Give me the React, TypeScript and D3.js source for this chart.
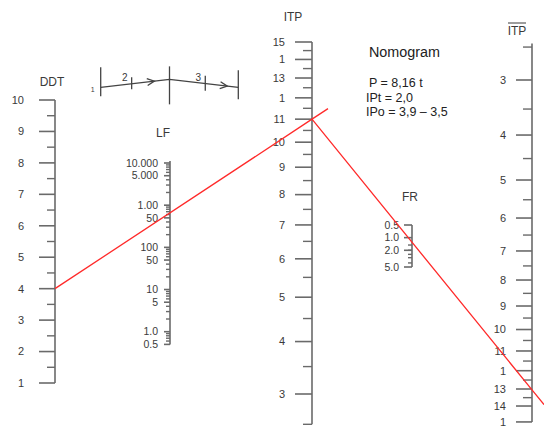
import React from "react";
import * as d3 from "d3";

// ---------- data ----------
const ddtMajor = [1, 2, 3, 4, 5, 6, 7, 8, 9, 10];
const ddtMinor = [1.5, 2.5, 3.5, 4.5, 5.5, 6.5, 7.5, 8.5, 9.5];

const lfMajor = [10000, 5000, 1000, 500, 100, 50, 10, 5, 1, 0.5];
const lfLabels = ["10.000", "5.000", "1.00", "50", "100", "50", "10", "5", "1.0", "0.5"];

const itpMajor = [15, 14, 13, 12, 11, 10, 9, 8, 7, 6, 5, 4, 3];
const itpLabels = ["15", "1", "13", "1", "11", "10", "9", "8", "7", "6", "5", "4", "3"];
const itpMinor = [14.5, 13.5, 12.5, 11.5, 10.5, 9.5, 8.5, 7.5, 6.5, 5.5, 4.5, 3.5, 2.5];

const frMajor = [0.5, 1, 2, 5];
const frLabels = ["0.5", "1.0", "2.0", "5.0"];
const frMinor = [1.5, 2, 2.5, 3, 4];

const itpBarMajor = [3, 4, 5, 6, 7, 8, 9, 10, 11, 12, 13, 14, 15];
const itpBarLabels = ["3", "4", "5", "6", "7", "8", "9", "10", "11", "1", "13", "14", "1"];
const itpBarMinor = [2.5, 3.5, 4.5, 5.5, 6.5, 7.5, 8.5, 9.5, 10.5, 11.5, 12.5, 13.5];

// solution
const ddtValue = 4;
const itpValue = 11;
const itpBarValue = 13.05;

const formulaLines = ["P  =  8,16 t", "IPt  =  2,0", "IPo =  3,9 – 3,5"];

// schematic (relative units)
const schemaPts = [
  { u: 0, v: 0.9 },
  { u: 1, v: 0 },
  { u: 2, v: 0.9 },
];
const schemaBars = [
  { u: 0, top: -1.6, bot: 1.3, label: "1" },
  { u: 0.45, top: -0.6, bot: 0.6, label: "2" },
  { u: 1, top: -1.7, bot: 2.1, label: "" },
  { u: 1.52, top: -0.75, bot: 0.75, label: "3" },
  { u: 2, top: -1.3, bot: 1.6, label: "" },
];

// ---------- layout ----------
const W = 544;
const H = 428;
const FONT = "'Liberation Sans', Arial, sans-serif";
const AX = "#6a6a6a";
const TXT = "#3a3a3a";
const RED = "#ff2a2a";

const xDDT = 55;
const xLF = 170;
const xITP = 312;
const xFR = 412;
const xBar = 532;

const yDDT = d3.scaleLinear().domain([1, 10]).range([383, 100]);
const lfLog = d3.scaleLog().domain([10000, 1]).range([163, 331.7]);
const yLF = (v: number) => lfLog(v);
const itpLog = d3.scaleLog().domain([17, 5]).range([42, 394]);
const yITP = (v: number) => itpLog(v + 2);
const yFR = d3.scaleLog().domain([0.5, 5]).range([225, 267]);
const barLog = d3.scaleLog().domain([4, 14]).range([80, 389]);
const yBar = (v: number) => barLog(v + 1);

const lfMinor: number[] = [];
for (let d = -1; d <= 3; d++) {
  for (let k = 1; k <= 9; k++) {
    const v = k * Math.pow(10, d);
    if (v >= 0.5 && v <= 10000 && !lfMajor.includes(v)) lfMinor.push(v);
  }
}

const sx = d3.scaleLinear().domain([0, 2]).range([100.7, 238.3]);
const sy = d3.scaleLinear().domain([0, 1]).range([79.3, 88.3]);

function Axis({
  x,
  scale,
  major,
  labels,
  minor,
  majLen,
  minLen,
  labelX,
  fontSize,
  top,
  bottom,
}: any) {
  return (
    <g>
      <line x1={x} x2={x} y1={top} y2={bottom} stroke={AX} strokeWidth={1.6} />
      {major.map((v: number, i: number) => (
        <g key={"M" + i}>
          <line x1={x - majLen} x2={x} y1={scale(v)} y2={scale(v)} stroke={AX} strokeWidth={1.6} />
          <text
            x={labelX}
            y={scale(v)}
            dy="0.35em"
            textAnchor="end"
            fontSize={fontSize}
            fill={TXT}
            fontFamily={FONT}
          >
            {labels[i]}
          </text>
        </g>
      ))}
      {minor.map((v: number, i: number) => (
        <line key={"m" + i} x1={x - minLen} x2={x} y1={scale(v)} y2={scale(v)} stroke={AX} strokeWidth={1.4} />
      ))}
    </g>
  );
}

export default function App() {
  const A: [number, number] = [xDDT, yDDT(ddtValue)];
  const B: [number, number] = [xITP, yITP(itpValue)];
  const C: [number, number] = [xBar, yBar(itpBarValue)];
  const s1 = (B[1] - A[1]) / (B[0] - A[0]);
  const ext1: [number, number] = [B[0] + 16, B[1] + s1 * 16];
  const s2 = (C[1] - B[1]) / (C[0] - B[0]);
  const ext2: [number, number] = [W, C[1] + s2 * (W - C[0])];
  const line = d3.line();

  return (
    <svg
      width={W}
      height={H}
      style={{ position: "absolute", left: 0, top: 0, background: "#fff" }}
      fontFamily={FONT}
    >
      <rect width={W} height={H} fill="#fff" />

      {/* DDT */}
      <text x={52} y={82} dy="0.35em" textAnchor="middle" fontSize={12} fill={TXT}>DDT</text>
      <Axis x={xDDT} scale={yDDT} major={ddtMajor} labels={ddtMajor.map(String)} minor={ddtMinor}
        majLen={16} minLen={8} labelX={24} fontSize={11} top={yDDT(10)} bottom={yDDT(1)} />

      {/* LF */}
      <text x={163} y={133} dy="0.35em" textAnchor="middle" fontSize={12} fill={TXT}>LF</text>
      <Axis x={xLF} scale={yLF} major={lfMajor} labels={lfLabels} minor={lfMinor}
        majLen={6} minLen={4} labelX={158} fontSize={10.5} top={yLF(10000) - 2} bottom={yLF(0.5)} />

      {/* ITP */}
      <text x={293} y={17} dy="0.35em" textAnchor="middle" fontSize={12} fill={TXT}>ITP</text>
      <Axis x={xITP} scale={yITP} major={itpMajor} labels={itpLabels} minor={itpMinor}
        majLen={17} minLen={9} labelX={285} fontSize={11} top={yITP(15)} bottom={yITP(2.5)} />

      {/* FR */}
      <text x={410} y={197} dy="0.35em" textAnchor="middle" fontSize={12} fill={TXT}>FR</text>
      <Axis x={xFR} scale={yFR} major={frMajor} labels={frLabels} minor={frMinor}
        majLen={8} minLen={4} labelX={399} fontSize={10.5} top={yFR(0.5)} bottom={yFR(5)} />

      {/* ITP bar */}
      <text x={517} y={31} dy="0.35em" textAnchor="middle" fontSize={12} fill={TXT}>ITP</text>
      <line x1={508} x2={526} y1={23} y2={23} stroke={TXT} strokeWidth={1} />
      <Axis x={xBar} scale={yBar} major={itpBarMajor} labels={itpBarLabels} minor={itpBarMinor}
        majLen={16} minLen={9} labelX={506} fontSize={11} top={yBar(2.45)} bottom={yBar(15)} />

      {/* schematic */}
      <path d={line(schemaPts.map((p) => [sx(p.u), sy(p.v)]) as any) || ""} fill="none" stroke="#444" strokeWidth={1.3} />
      {schemaBars.map((b, i) => (
        <g key={i}>
          <line x1={sx(b.u)} x2={sx(b.u)} y1={sy(0.45) + b.top * 10} y2={sy(0.45) + b.bot * 10} stroke="#444" strokeWidth={1.3} />
          {b.label && (
            <text x={b.u === 0 ? sx(b.u) - 8 : sx(b.u) - 7} y={b.u === 0 ? sy(0.9) + 2 : sy(0.45) - 6} dy="0.35em" textAnchor="middle"
              fontSize={b.u === 0 ? 7 : 10} fill={TXT}>{b.label}</text>
          )}
        </g>
      ))}
      {[0.78, 1.84].map((u, i) => {
        const x = sx(u);
        const v = u < 1 ? 0.9 - 0.9 * u : 0.9 * (u - 1);
        const y = sy(v);
        const ang = u < 1 ? Math.atan2(-9, sx(1) - sx(0)) : Math.atan2(9, sx(1) - sx(0));
        const a1 = ang + Math.PI - 0.45;
        const a2 = ang + Math.PI + 0.45;
        return (
          <path key={i}
            d={`M${x + 8 * Math.cos(a1)},${y + 8 * Math.sin(a1)}L${x},${y}L${x + 8 * Math.cos(a2)},${y + 8 * Math.sin(a2)}`}
            fill="none" stroke="#444" strokeWidth={1.3} />
        );
      })}

      {/* Nomogram text */}
      <text x={369} y={52} dy="0.35em" fontSize={15.5} fill="#222" textLength={71} lengthAdjust="spacingAndGlyphs">Nomogram</text>
      {formulaLines.map((t, i) => (
        <text key={i} x={i === 0 ? 369 : 366} y={83 + i * 14.3} dy="0.35em" fontSize={12.5} fill="#222">{t}</text>
      ))}

      {/* solution lines */}
      <path d={line([A, B, ext1]) || ""} fill="none" stroke={RED} strokeWidth={1.3} />
      <path d={line([B, C, ext2]) || ""} fill="none" stroke={RED} strokeWidth={1.3} />
    </svg>
  );
}
